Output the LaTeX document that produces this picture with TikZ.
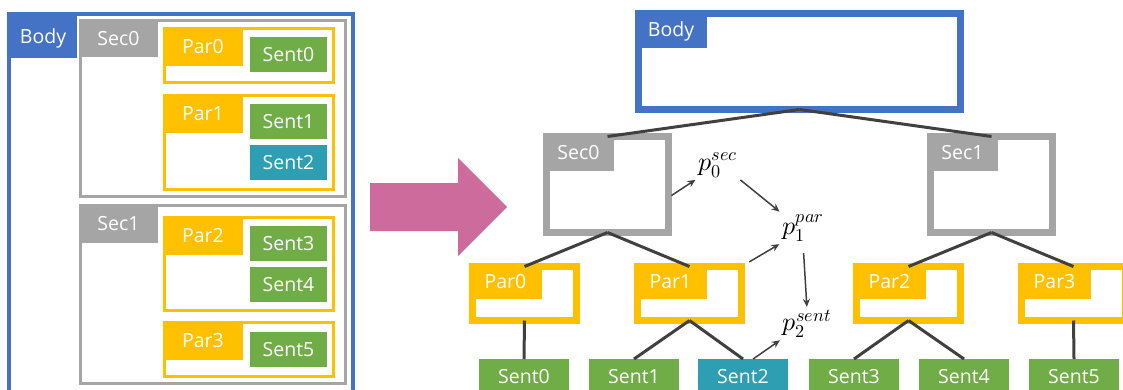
\documentclass[tikz,border=0pt]{standalone}
\usepackage{fontspec}
\usepackage{unicode-math}
\setmainfont{Open Sans}
\setmathfont{Latin Modern Math}
\usetikzlibrary{positioning,arrows.meta}
\definecolor{bodyblue}{HTML}{4472C4}
\definecolor{secgray}{HTML}{A5A5A5}
\definecolor{paryellow}{HTML}{FFC000}
\definecolor{sentgreen}{HTML}{70AD47}
\definecolor{sentteal}{HTML}{2E9FB2}
\definecolor{arrowpink}{HTML}{CC6B9C}
\definecolor{linkgray}{HTML}{404040}

\begin{document}
\begin{tikzpicture}[x=1pt,y=-1pt,
  frame/.style={draw=#1,fill=white,line width=3pt,inner sep=0pt,outer sep=0pt,anchor=north west},
  tag/.style={fill=#1,text=white,inner sep=0pt,outer sep=0pt,anchor=north west,
    font=\fontsize{19.5}{22}\selectfont,text height=14pt,text depth=0pt},
  link/.style={draw=linkgray,line width=3pt},
  prob/.style={draw=linkgray,line width=1.5pt,-{Stealth[length=8pt,width=7pt]}},
  plabel/.style={inner sep=1pt,font=\fontsize{26}{30}\selectfont}]
\useasboundingbox (0,0) rectangle (1123,389);

% Nested view
\node[frame=bodyblue,line width=4pt,minimum width=344,minimum height=386] (lbody) at (9,14) {};
\node[tag=bodyblue,minimum width=68,minimum height=44] (lbodytag) at (9,14) {Body};

\node[frame=secgray,minimum width=265,minimum height=176] (lsec0) at (80.5,20.5) {};
\node[tag=secgray,minimum width=79,minimum height=38] (lsec0tag) at (79,19) {Sec0};
\node[frame=secgray,minimum width=265,minimum height=178] (lsec1) at (80.5,205.5) {};
\node[tag=secgray,minimum width=79,minimum height=39] (lsec1tag) at (79,204) {Sec1};

\node[frame=paryellow,minimum width=169,minimum height=54] (lpar0) at (164.5,28.5) {};
\node[tag=paryellow,minimum width=80,minimum height=39] (lpar0tag) at (163,27) {Par0};
\node[frame=paryellow,minimum width=169,minimum height=94] (lpar1) at (164.5,95.5) {};
\node[tag=paryellow,minimum width=80,minimum height=39] (lpar1tag) at (163,94) {Par1};
\node[frame=paryellow,minimum width=169,minimum height=93] (lpar2) at (164.5,217.5) {};
\node[tag=paryellow,minimum width=80,minimum height=39] (lpar2tag) at (163,216) {Par2};
\node[frame=paryellow,minimum width=169,minimum height=54] (lpar3) at (164.5,322.5) {};
\node[tag=paryellow,minimum width=80,minimum height=39] (lpar3tag) at (163,321) {Par3};

\node[tag=sentgreen,minimum width=77,minimum height=35] (lsent0) at (250,37) {Sent0};
\node[tag=sentgreen,minimum width=77,minimum height=35] (lsent1) at (250,104) {Sent1};
\node[tag=sentteal,minimum width=77,minimum height=35] (lsent2) at (250,145) {Sent2};
\node[tag=sentgreen,minimum width=77,minimum height=35] (lsent3) at (250,226) {Sent3};
\node[tag=sentgreen,minimum width=77,minimum height=35] (lsent4) at (250,267) {Sent4};
\node[tag=sentgreen,minimum width=77,minimum height=35] (lsent5) at (250,332) {Sent5};

% Big arrow
\fill[arrowpink] (370,183) -- (458,183) -- (458,158) -- (507,207) -- (458,256) -- (458,231) -- (370,231) -- cycle;

% Tree view
\node[frame=bodyblue,line width=7pt,minimum width=322,minimum height=96] (rbody) at (638.5,13.5) {};
\node[tag=bodyblue,minimum width=72,minimum height=38] (rbodytag) at (635,10) {Body};

\node[frame=secgray,line width=7pt,minimum width=122,minimum height=96] (rsec0) at (546.5,136.5) {};
\node[tag=secgray,minimum width=71,minimum height=38] (rsec0tag) at (543,133) {Sec0};
\node[frame=secgray,line width=7pt,minimum width=122,minimum height=96] (rsec1) at (930.5,136.5) {};
\node[tag=secgray,minimum width=71,minimum height=38] (rsec1tag) at (927,133) {Sec1};

\node[frame=paryellow,line width=7pt,minimum width=104,minimum height=54] (rpar0) at (472.5,266.5) {};
\node[tag=paryellow,minimum width=73,minimum height=36] (rpar0tag) at (469,263) {Par0};
\node[frame=paryellow,line width=7pt,minimum width=104,minimum height=54] (rpar1) at (637.5,266.5) {};
\node[tag=paryellow,minimum width=73,minimum height=36] (rpar1tag) at (634,263) {Par1};
\node[frame=paryellow,line width=7pt,minimum width=104,minimum height=54] (rpar2) at (856.5,266.5) {};
\node[tag=paryellow,minimum width=73,minimum height=36] (rpar2tag) at (853,263) {Par2};
\node[frame=paryellow,line width=7pt,minimum width=104,minimum height=54] (rpar3) at (1021.5,266.5) {};
\node[tag=paryellow,minimum width=73,minimum height=36] (rpar3tag) at (1018,263) {Par3};

\node[tag=sentgreen,minimum width=90,minimum height=35] (rsent0) at (479,359) {Sent0};
\node[tag=sentgreen,minimum width=90,minimum height=35] (rsent1) at (589,359) {Sent1};
\node[tag=sentteal,minimum width=90,minimum height=35] (rsent2) at (698,359) {Sent2};
\node[tag=sentgreen,minimum width=90,minimum height=35] (rsent3) at (809,359) {Sent3};
\node[tag=sentgreen,minimum width=90,minimum height=35] (rsent4) at (919,359) {Sent4};
\node[tag=sentgreen,minimum width=90,minimum height=35] (rsent5) at (1029,359) {Sent5};

\draw[link] (rbody.south) -- (rsec0.north);
\draw[link] (rbody.south) -- (rsec1.north);
\draw[link] (rsec0.south) -- (rpar0.north);
\draw[link] (rsec0.south) -- (rpar1.north);
\draw[link] (rsec1.south) -- (rpar2.north);
\draw[link] (rsec1.south) -- (rpar3.north);
\draw[link] (rpar0.south) -- (rsent0.north);
\draw[link] (rpar1.south) -- (rsent1.north);
\draw[link] (rpar1.south) -- (rsent2.north);
\draw[link] (rpar2.south) -- (rsent3.north);
\draw[link] (rpar2.south) -- (rsent4.north);
\draw[link] (rpar3.south) -- (rsent5.north);

% Probabilities
\node[plabel] (p0) at (718,165) {$p_0^{sec}$};
\node[plabel] (p1) at (803,228) {$p_1^{par}$};
\node[plabel] (p2) at (807,324) {$p_2^{sent}$};
\draw[prob,shorten <=3.5pt,shorten >=2pt] (rsec0.-12) -- (p0.south west);
\draw[prob,shorten <=2pt,shorten >=2pt] (p0.south east) -- (p1.north west);
\draw[prob,shorten <=9pt,shorten >=2pt] (rpar1.north east) -- (p1.south west);
\draw[prob,shorten <=10pt,shorten >=2pt] (p1.south) -- (p2.north);
\draw[prob,shorten >=2pt] (rsent2.60) -- (p2.south west);
\end{tikzpicture}
\end{document}
